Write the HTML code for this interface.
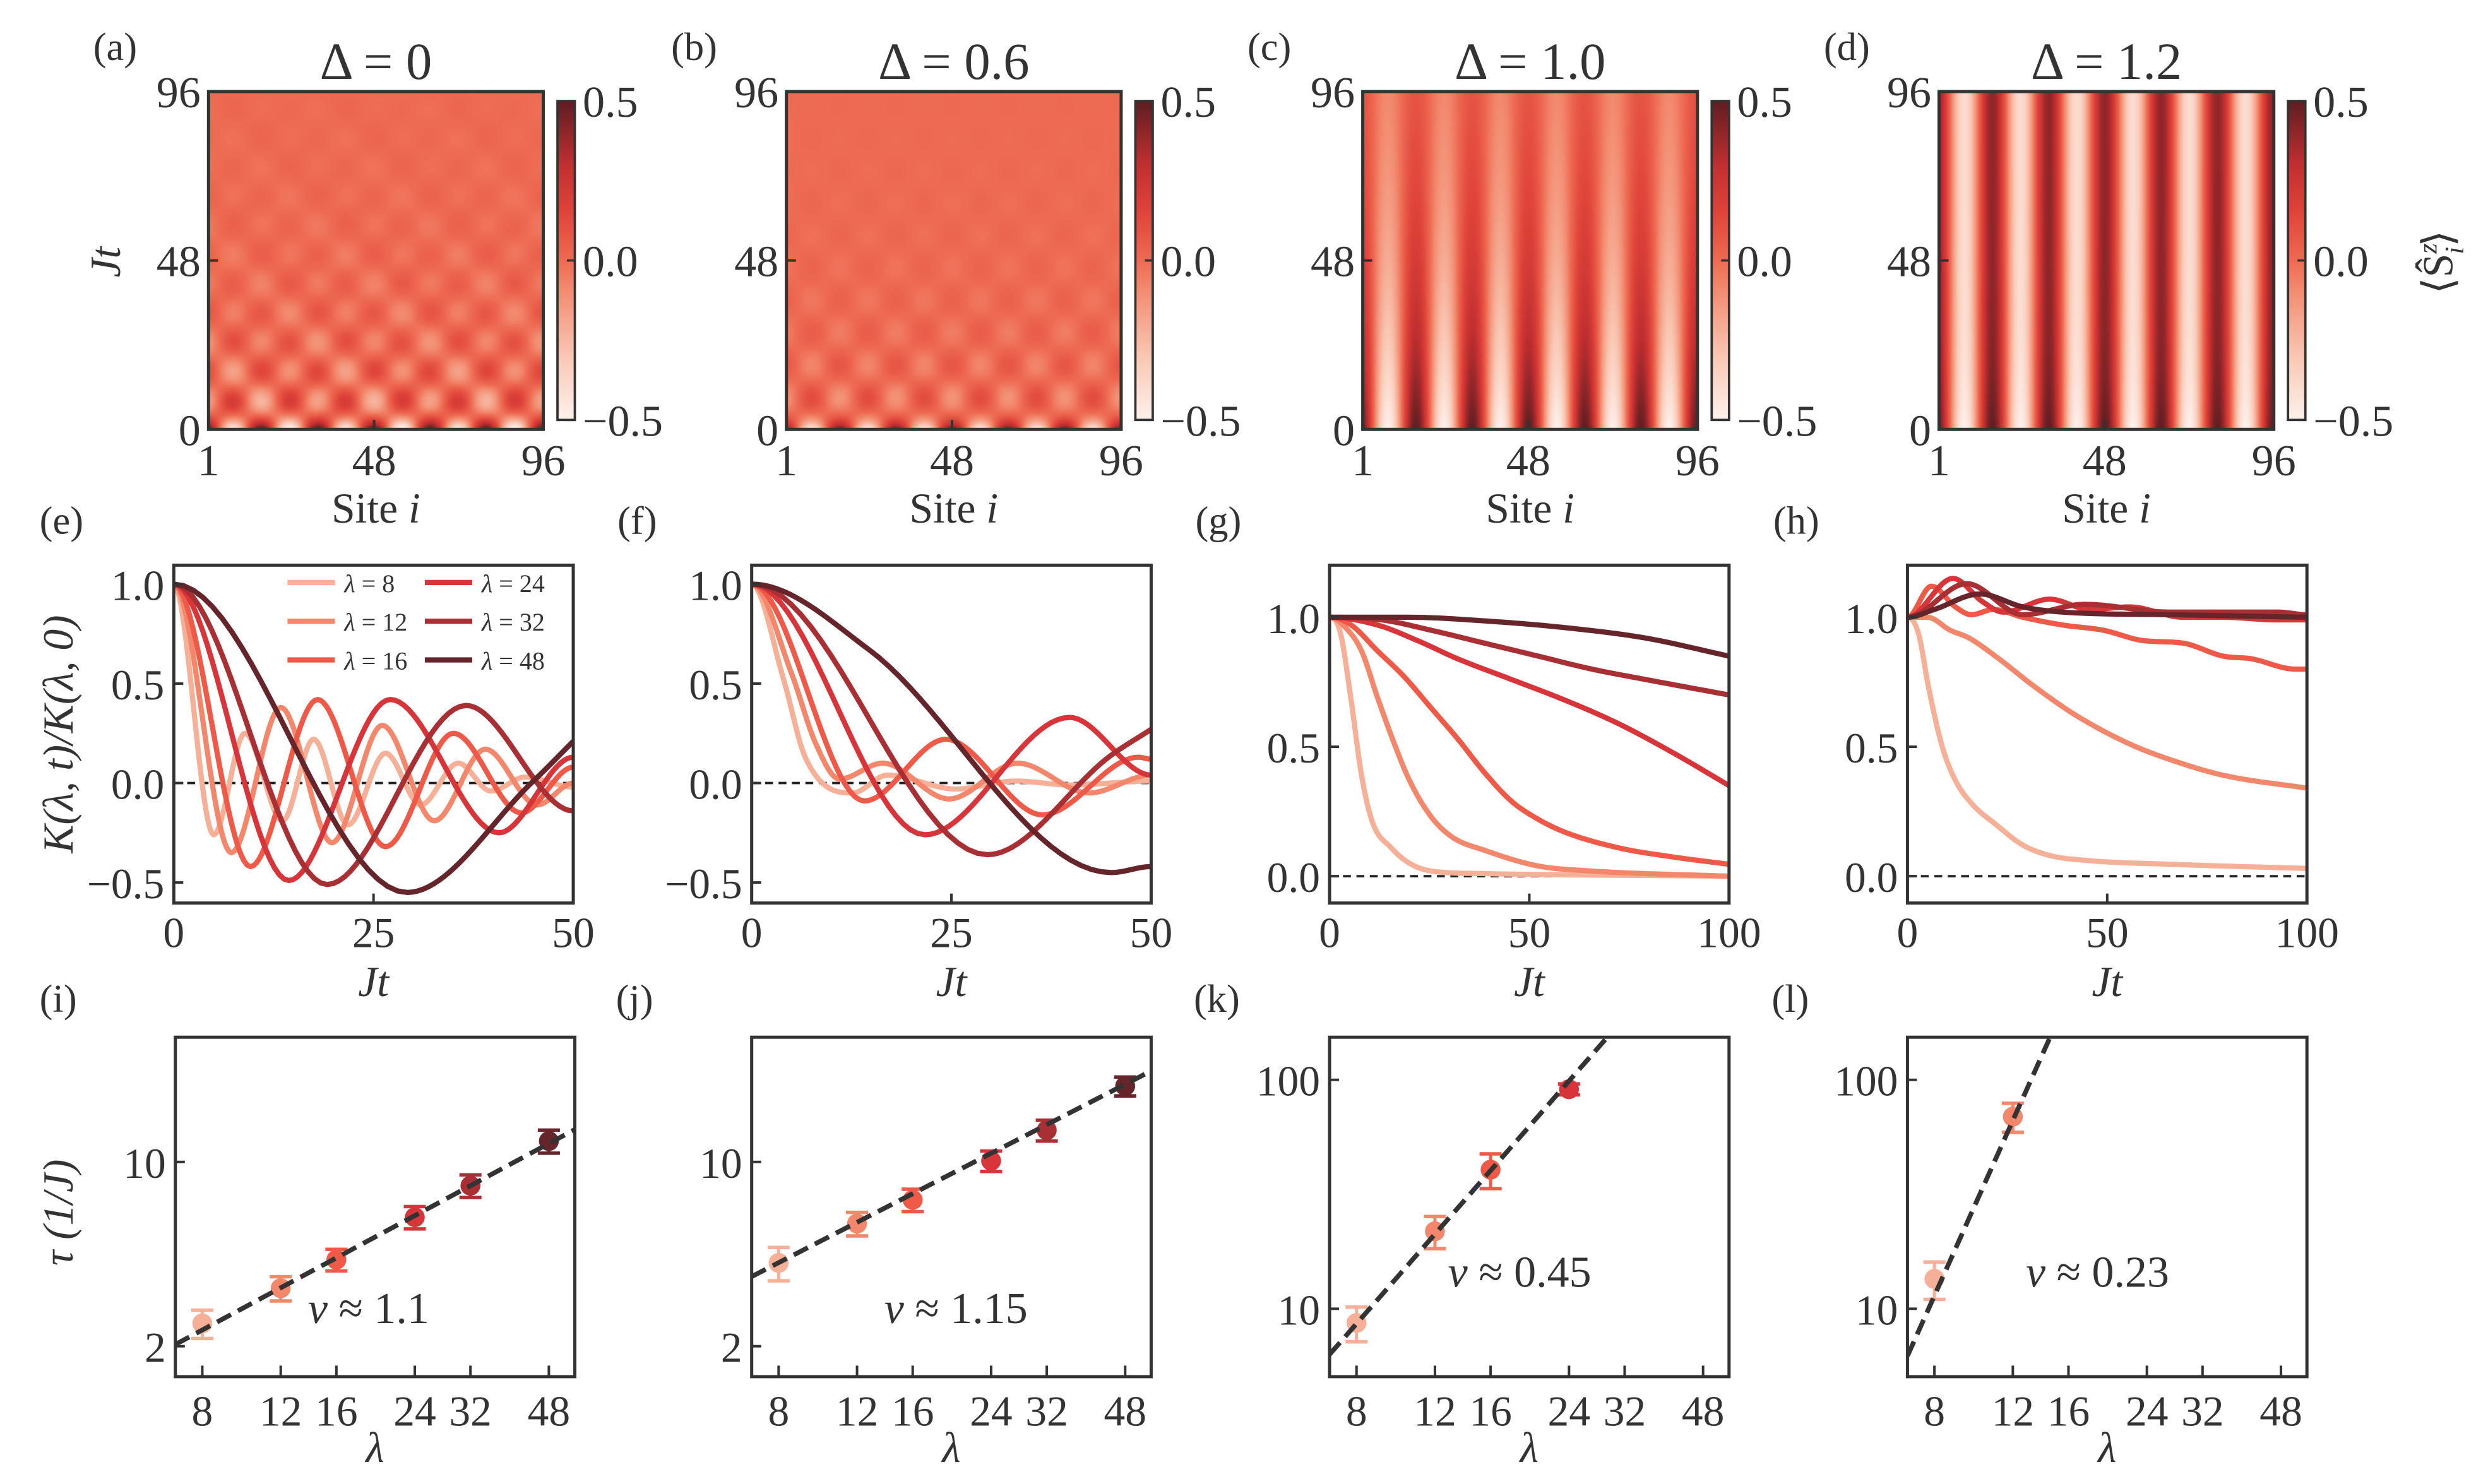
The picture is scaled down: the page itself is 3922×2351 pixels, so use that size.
<!DOCTYPE html>
<html><head><meta charset="utf-8">
<style>
html,body{margin:0;padding:0;background:#fff;}
#root{position:relative;width:3922px;height:2351px;overflow:hidden;background:#fff;}
canvas{position:absolute;}
#fig{position:absolute;left:0;top:0;font-family:"Liberation Serif","DejaVu Serif",serif;}
#fig text{font-family:"Liberation Serif","DejaVu Serif",serif;fill:#333;}
</style></head>
<body>
<div id="root">
<svg id="fig" width="3922" height="2351" viewBox="0 0 1568 940" font-family="Liberation Serif, DejaVu Serif, serif">
<defs>
<linearGradient id="cbgrad" x1="0" y1="1" x2="0" y2="0">
<stop offset="0" stop-color="#fdf1ec"/><stop offset="0.2" stop-color="#f9c7b3"/><stop offset="0.4" stop-color="#f28d72"/><stop offset="0.5" stop-color="#ee6a52"/><stop offset="0.65" stop-color="#e0443a"/><stop offset="0.8" stop-color="#c12f30"/><stop offset="1" stop-color="#5e1e22"/>
</linearGradient>
</defs>
</svg>
</div>
<script>
// ---------- data ----------
const deltas = ["0","0.6","1.0","1.2"];
const lambdaLabels = ["8","12","16","24","32","48"];
const lambdaColors = ["#f6b097","#f2876c","#ee5a47","#d7353a","#a82f33","#66252b"];
// panel e (Δ=0)
const E_T = [[0,5,8.9,13.6,17.5,21.8,26.5,30.9,35.6,39.7,44,50],[0,7.2,13.4,19.8,26.1,32.6,39,45.5,50],[0,9.6,18,26.5,35,43.5,50],[0,14.4,27.1,40.7,50],[0,19.2,36.6,50],[0,29.2,45,50]];
const E_V = [[1,-0.26,0.25,-0.19,0.22,-0.21,0.15,-0.11,0.10,-0.04,0.03,-0.02],[1,-0.35,0.38,-0.30,0.29,-0.19,0.17,-0.11,0.0],[1,-0.42,0.42,-0.32,0.25,-0.15,0.08],[1,-0.49,0.42,-0.25,0.13],[1,-0.51,0.39,-0.14],[1,-0.55,0.01,0.21]];
// panel f (Δ=0.6)
const F_T = [[0,4,6.7,12.6,17,25.5,33,40,50],[0,5,8,11,16.4,24.7,33.3,42.2,50],[0,14.1,24.3,36.4,48.4,50],[0,21.7,39.8,50],[0,29.5,45,50],[0,14.7,45,50]];
const F_V = [[1,0.52,0.13,-0.05,0.04,-0.03,0.01,-0.01,0.01],[1,0.55,0.2,0.02,0.10,-0.08,0.10,-0.05,0.04],[1,-0.09,0.22,-0.16,0.13,0.12],[1,-0.26,0.33,0.04],[1,-0.36,0.14,0.27],[1,0.67,-0.45,-0.42]];
// panel g (Δ=1.0)
const G_T = [[0,2.7,5.3,8,10.7,15.4,20,25.4,38.8,100],[0,4,8,12,16,20,25.4,30.8,38.8,52,65.6,100],[0,5.4,12,18.7,25.4,32.1,38.8,45.5,52.2,58.9,72.2,85.6,100],[0,12,22,32,45.5,58.9,72.2,85.6,100],[0,13,25.4,38.8,52.2,65.6,79,100],[0,20,38.8,58.9,79,100]];
const G_V = [[1,0.94,0.69,0.39,0.21,0.11,0.05,0.02,0.01,0.0],[1,0.96,0.87,0.69,0.52,0.37,0.23,0.15,0.10,0.04,0.02,0.0],[1,0.97,0.87,0.77,0.65,0.53,0.40,0.29,0.22,0.17,0.11,0.075,0.046],[1,0.97,0.91,0.84,0.76,0.68,0.59,0.48,0.35],[1,0.99,0.95,0.90,0.85,0.80,0.76,0.70],[1,1.0,0.986,0.96,0.92,0.85]];
// panel h (Δ=1.2)
const H_T = [[0,2.7,5.4,8.7,12,16.1,22.1,28.9,35.6,45.6,65.8,100],[0,5,10.7,15.4,22,32,42.3,55.7,65.8,79,100],[0,6,12,16,21.5,28.9,38.9,49,59,69,79,86,97,100],[0,11.4,18.8,24,35.6,45.6,55.7,69,79,92.6,100],[0,14.8,28.9,44.3,65.8,92.6,100],[0,6.7,18.1,28.9,38.9,65.8,100]];
const H_V = [[1,0.94,0.72,0.50,0.37,0.28,0.20,0.12,0.08,0.06,0.046,0.03],[1,1.0,0.95,0.92,0.85,0.73,0.62,0.51,0.45,0.39,0.34],[1,1.12,1.04,1.01,1.03,1.0,0.97,0.95,0.91,0.90,0.85,0.84,0.80,0.80],[1,1.15,1.06,1.02,1.07,1.03,1.04,1.0,1.0,0.99,0.99],[1,1.13,1.01,1.05,1.02,1.02,1.01],[1,1.03,1.09,1.04,1.02,1.01,1.0]];
// row 3: relaxation times
const lamI = [8,12,16,24,32,48];
const tauI = [2.44,3.32,4.26,6.17,8.13,12.0];
const errI = [0.3,0.35,0.4,0.6,0.8,1.2];
const lamJ = [8,12,16,24,32,48];
const tauJ = [4.14,5.84,7.18,10.1,13.2,19.4];
const errJ = [0.6,0.6,0.7,0.9,1.2,1.6];
const lamK = [8,12,16,24];
const tauK = [8.67,21.8,40.5,91];
const errK = [1.5,3.5,7,5];
const lamL = [8,12];
const tauL = [13.5,69];
const errL = [2.5,10];
const nuVals = [1.1,1.15,0.45,0.23];
const fitPref = [0.348,0.68,0.0847,0.00135];
const nuLabels = ["1.1","1.15","0.45","0.23"];

// ---------- helpers ----------
const NS = "http://www.w3.org/2000/svg";
const svg = document.getElementById('fig');
const S = 3922/1568;
const FONT = '"Liberation Serif", "DejaVu Serif", serif';
function mk(tag, attrs, name, parent) {
  const e = document.createElementNS(NS, tag);
  for (const k in attrs) e.setAttribute(k, attrs[k]);
  
  
  (parent || svg).appendChild(e);
  return e;
}
function txt(x, y, s, size, anchor, name, extra) {
  const t = mk('text', Object.assign({x:x, y:y, 'font-size':size, 'text-anchor':anchor||'middle', 'font-family':FONT, fill:'#333'}, extra||{}), name);
  t.textContent = s;
  return t;
}
function monotone(xs, ys, n) {
  const m = xs.length, d = [], sl = [];
  for (let k=0;k<m-1;k++) d.push((ys[k+1]-ys[k])/(xs[k+1]-xs[k]));
  for (let k=0;k<m;k++) {
    if (k===0) sl.push(0); else if (k===m-1) sl.push(d[m-2]);
    else sl.push(d[k-1]*d[k]<=0 ? 0 : (d[k-1]+d[k])/2);
  }
  if (m>2) { if (d[m-2]*d[m-3]<=0) sl[m-1]=0; }
  for (let k=0;k<m-1;k++) {
    if (d[k]===0) { sl[k]=0; sl[k+1]=0; continue; }
    const a=sl[k]/d[k], b=sl[k+1]/d[k], h=a*a+b*b;
    if (h>9) { const tt=3/Math.sqrt(h); sl[k]=tt*a*d[k]; sl[k+1]=tt*b*d[k]; }
  }
  const out = [];
  for (let k=0;k<m-1;k++) {
    const hx = xs[k+1]-xs[k];
    for (let j=0;j<n;j++) {
      const s=j/n, s2=s*s, s3=s2*s;
      const v=(2*s3-3*s2+1)*ys[k]+(s3-2*s2+s)*hx*sl[k]+(-2*s3+3*s2)*ys[k+1]+(s3-s2)*hx*sl[k+1];
      out.push([xs[k]+s*hx, v]);
    }
  }
  out.push([xs[m-1], ys[m-1]]);
  return out;
}
const cmStops = [[0,[253,241,236]],[0.2,[249,199,179]],[0.4,[242,141,114]],[0.5,[238,106,82]],[0.65,[224,68,58]],[0.8,[193,47,48]],[1,[94,30,34]]];
function cmap(v) {
  let u = Math.max(0, Math.min(1, v+0.5));
  for (let k=0;k<cmStops.length-1;k++) {
    const a=cmStops[k], b=cmStops[k+1];
    if (u<=b[0]) { const f=(u-a[0])/(b[0]-a[0]); return [0,1,2].map(c=>a[1][c]+f*(b[1][c]-a[1][c])); }
  }
  return cmStops[cmStops.length-1][1];
}

// ---------- row 1: heatmaps ----------
const heatL = [132,498,863,1228], heatT = 58, heatW = 212, heatH = 214;
const q = 2*Math.PI/16;
function field(p, i, t) {
  const sp = Math.cos(q*i);
  if (p===0) { const env = 0.25*Math.exp(-t/2.5)+0.26*Math.exp(-t/28); return sp*env*Math.cos(0.378*t) + 0.04*Math.sin(q*i*0.5+t*0.2)*Math.exp(-t/40); }
  if (p===1) { const env = 0.3*Math.exp(-t/2)+0.17*Math.exp(-t/24); return sp*env*Math.cos(0.34*t); }
  if (p===2) { return sp*0.5*Math.exp(-t/55); }
  return sp*0.5*(0.8+0.2*Math.exp(-t/15));
}
const root = document.getElementById('root');
for (let p=0;p<4;p++) {
  const cv = document.createElement('canvas');
  
  
  const W = Math.round(heatW*S), H = Math.round(heatH*S);
  cv.width = W; cv.height = H;
  cv.style.left = (heatL[p]*S)+'px'; cv.style.top = (heatT*S)+'px';
  root.insertBefore(cv, svg);
  const ctx = cv.getContext('2d');
  const img = ctx.createImageData(W, H);
  for (let py=0;py<H;py++) {
    const t = 96*(1-py/(H-1));
    for (let px=0;px<W;px++) {
      const i = 1 + 95*px/(W-1);
      const c = cmap(field(p,i,t));
      const o = 4*(py*W+px);
      img.data[o]=c[0]; img.data[o+1]=c[1]; img.data[o+2]=c[2]; img.data[o+3]=255;
    }
  }
  ctx.putImageData(img,0,0);
}
const heatLetters = ["(a)","(b)","(c)","(d)"];
for (let p=0;p<4;p++) {
  const L = heatL[p];
  mk('rect',{x:L,y:heatT,width:heatW,height:heatH,fill:'none',stroke:'#333','stroke-width':2},'heatmap-frame-'+p);
  txt(L-73, 38, heatLetters[p], 25, 'start', 'panel-label-'+"abcd"[p]);
  txt(L+heatW/2, 50, "Δ = "+deltas[p], 33, 'middle', 'panel-title-'+"abcd"[p]);
  [0,48,96].forEach(tv => {
    const y = heatT + heatH*(1-tv/96);
    mk('line',{x1:L,y1:y,x2:L+6,y2:y,stroke:'#333','stroke-width':1.6},'y-tick');
    txt(L-5, y+10, String(tv), 28, 'end', 'y-tick-label');
  });
  [1,48,96].forEach(iv => {
    const x = L + heatW*(iv-1)/95;
    mk('line',{x1:x,y1:heatT+heatH,x2:x,y2:heatT+heatH-6,stroke:'#333','stroke-width':1.6},'x-tick');
    txt(x, 301, String(iv), 28, 'middle', 'x-tick-label');
  });
  const xl = txt(L+heatW/2, 331, "Site ", 27, 'middle', 'x-axis-title');
  const it = document.createElementNS(NS,'tspan'); it.setAttribute('font-style','italic'); it.textContent='i'; xl.appendChild(it);
  const cbx = L+221;
  mk('rect',{x:cbx,y:64,width:11,height:202,fill:'url(#cbgrad)',stroke:'#333','stroke-width':1.5},'colorbar');
  [[0.5,"0.5"],[0,"0.0"],[-0.5,"−0.5"]].forEach(([v,s]) => {
    const y = 165 - 202*v;
    mk('line',{x1:cbx+11,y1:y,x2:cbx+6,y2:y,stroke:'#333','stroke-width':1.4},'colorbar-tick');
    txt(cbx+16, y+10, s, 28, 'start', 'colorbar-tick-label');
  });
}
txt(0,0,"Jt",27,'middle','y-axis-title-row1',{transform:'translate(76,166) rotate(-90)','font-style':'italic'});
{
  const cl = txt(0,0,"⟨Ŝ",27,'middle','colorbar-label',{transform:'translate(1553,166) rotate(-90)'});
  const s1 = document.createElementNS(NS,'tspan'); s1.setAttribute('font-size','17'); s1.setAttribute('dy','-10'); s1.setAttribute('font-style','italic'); s1.textContent='z'; cl.appendChild(s1);
  const s2 = document.createElementNS(NS,'tspan'); s2.setAttribute('font-size','17'); s2.setAttribute('dx','-7'); s2.setAttribute('dy','17'); s2.setAttribute('font-style','italic'); s2.textContent='i'; cl.appendChild(s2);
  const s3 = document.createElementNS(NS,'tspan'); s3.setAttribute('dy','-7'); s3.textContent='⟩'; cl.appendChild(s3);
}

// ---------- row 2: correlation decay ----------
const r2L = [110,476,842,1208], r2T = 358, r2W = 253, r2H = 214;
const r2Data = [[E_T,E_V],[F_T,F_V],[G_T,G_V],[H_T,H_V]];
const r2Letters = ["(e)","(f)","(g)","(h)"];
for (let p=0;p<4;p++) {
  const L = r2L[p];
  const tmax = p<2 ? 50 : 100;
  const y0 = p<2 ? 496 : 555, ky = p<2 ? 126 : 164;
  const X = t => L + r2W*t/tmax;
  const Y = v => y0 - ky*v;
  const cid = 'clip2_'+p;
  const cp = mk('clipPath',{id:cid},'clip-region');
  mk('rect',{x:L,y:r2T,width:r2W,height:r2H},'clip-rect',cp);
  mk('line',{x1:L,y1:Y(0),x2:L+r2W,y2:Y(0),stroke:'#222','stroke-width':1.5,'stroke-dasharray':'5,3.5'},'zero-reference-line');
  const [TT,VV] = r2Data[p];
  for (let s=0;s<6;s++) {
    const pts = monotone(TT[s], VV[s], 24);
    const d = pts.map((pt,k)=>(k?'L':'M')+X(pt[0]).toFixed(2)+','+Y(pt[1]).toFixed(2)).join('');
    mk('path',{d:d,fill:'none',stroke:lambdaColors[s],'stroke-width':3.3,'stroke-linejoin':'round','clip-path':'url(#'+cid+')'},'curve-lambda-'+lambdaLabels[s]);
  }
  mk('rect',{x:L,y:r2T,width:r2W,height:r2H,fill:'none',stroke:'#333','stroke-width':2},'axes-frame');
  txt(L-85, 338, r2Letters[p], 25, 'start', 'panel-label-'+"efgh"[p]);
  const yt = p<2 ? [[-0.5,"−0.5"],[0,"0.0"],[0.5,"0.5"],[1,"1.0"]] : [[0,"0.0"],[0.5,"0.5"],[1,"1.0"]];
  yt.forEach(([v,s]) => {
    mk('line',{x1:L,y1:Y(v),x2:L+6,y2:Y(v),stroke:'#333','stroke-width':1.6},'y-tick');
    txt(L-6, Y(v)+10, s, 27, 'end', 'y-tick-label');
  });
  const xt = p<2 ? [0,25,50] : [0,50,100];
  xt.forEach(tv => {
    mk('line',{x1:X(tv),y1:r2T+r2H,x2:X(tv),y2:r2T+r2H-6,stroke:'#333','stroke-width':1.6},'x-tick');
    txt(X(tv), 600, String(tv), 27, 'middle', 'x-tick-label');
  });
  txt(L+r2W/2, 631, "Jt", 27, 'middle', 'x-axis-title', {'font-style':'italic'});
}
txt(0,0,"K(λ, t)/K(λ, 0)",27,'middle','y-axis-title-row2',{transform:'translate(46,465) rotate(-90)','font-style':'italic'});
// legend in panel e
for (let s=0;s<6;s++) {
  const col = Math.floor(s/3), row = s%3;
  const lx = 182 + col*87, ly = 369 + row*24.5;
  mk('line',{x1:lx,y1:ly,x2:lx+30,y2:ly,stroke:lambdaColors[s],'stroke-width':3.3},'legend-swatch-'+lambdaLabels[s]);
  const t = txt(lx+36, ly+6, "", 16, 'start', 'legend-entry-'+lambdaLabels[s]);
  const a = document.createElementNS(NS,'tspan'); a.setAttribute('font-style','italic'); a.textContent='λ'; t.appendChild(a);
  const b = document.createElementNS(NS,'tspan'); b.textContent=' = '+lambdaLabels[s]; t.appendChild(b);
}

// ---------- row 3: scaling ----------
const r3L = [111,476,842,1208], r3T = 657, r3W = 253, r3H = 215;
const r3Data = [[lamI,tauI,errI],[lamJ,tauJ,errJ],[lamK,tauK,errK],[lamL,tauL,errL]];
const r3Letters = ["(i)","(j)","(k)","(l)"];
const lnMin = Math.log(6.96), xPerLn = 122.5;
for (let p=0;p<4;p++) {
  const L = r3L[p];
  const X = lam => L + (Math.log(lam)-lnMin)*xPerLn;
  const small = p<2;
  const Y = tau => small ? 736 - 167*(Math.log10(tau)-1) : 829 - 145*(Math.log10(tau)-1);
  const cid = 'clip3_'+p;
  const cp = mk('clipPath',{id:cid},'clip-region');
  mk('rect',{x:L,y:r3T,width:r3W,height:r3H},'clip-rect',cp);
  const [lams,taus,errs] = r3Data[p];
  for (let k=0;k<lams.length;k++) {
    const c = lambdaColors[k];
    const x = X(lams[k]);
    const yt = Y(taus[k]+errs[k]), yb = Y(taus[k]-errs[k]);
    mk('line',{x1:x,y1:yt,x2:x,y2:yb,stroke:c,'stroke-width':2},'error-bar');
    mk('line',{x1:x-7,y1:yt,x2:x+7,y2:yt,stroke:c,'stroke-width':2.2},'error-cap');
    mk('line',{x1:x-7,y1:yb,x2:x+7,y2:yb,stroke:c,'stroke-width':2.2},'error-cap');
    mk('circle',{cx:x,cy:Y(taus[k]),r:6.3,fill:c},'data-point-lambda-'+lams[k]);
  }
  const fit = [];
  for (let j=0;j<=40;j++) { const lam = 6.96*Math.exp(j/40*2.065); fit.push([X(lam), Y(fitPref[p]*Math.pow(lam,1/nuVals[p]))]); }
  mk('path',{d:fit.map((pt,k)=>(k?'L':'M')+pt[0].toFixed(2)+','+pt[1].toFixed(2)).join(''),fill:'none',stroke:'#333','stroke-width':3,'stroke-dasharray':'10,5','clip-path':'url(#'+cid+')'},'power-law-fit');
  mk('rect',{x:L,y:r3T,width:r3W,height:r3H,fill:'none',stroke:'#333','stroke-width':2},'axes-frame');
  txt(L-86, 641, r3Letters[p], 25, 'start', 'panel-label-'+"ijkl"[p]);
  const yt = small ? [[2,"2"],[10,"10"]] : [[10,"10"],[100,"100"]];
  yt.forEach(([v,s]) => {
    mk('line',{x1:L,y1:Y(v),x2:L+6,y2:Y(v),stroke:'#333','stroke-width':1.6},'y-tick');
    txt(L-6, Y(v)+10, s, 27, 'end', 'y-tick-label');
  });
  lamI.forEach(lv => {
    mk('line',{x1:X(lv),y1:r3T+r3H,x2:X(lv),y2:r3T+r3H-7,stroke:'#333','stroke-width':1.6},'x-tick');
    txt(X(lv), 903, String(lv), 27, 'middle', 'x-tick-label');
  });
  txt(L+r3W/2, 926, "λ", 27, 'middle', 'x-axis-title', {'font-style':'italic'});
  const nt = txt(L + (small ? 84 : 75), small ? 838 : 815, "", 28, 'start', 'exponent-annotation');
  const a = document.createElementNS(NS,'tspan'); a.setAttribute('font-style','italic'); a.textContent='ν'; nt.appendChild(a);
  const b = document.createElementNS(NS,'tspan'); b.textContent=' ≈ '+nuLabels[p]; nt.appendChild(b);
}
txt(0,0,"τ (1/J)",27,'middle','y-axis-title-row3',{transform:'translate(46,768) rotate(-90)','font-style':'italic'});
</script>
</body></html>
